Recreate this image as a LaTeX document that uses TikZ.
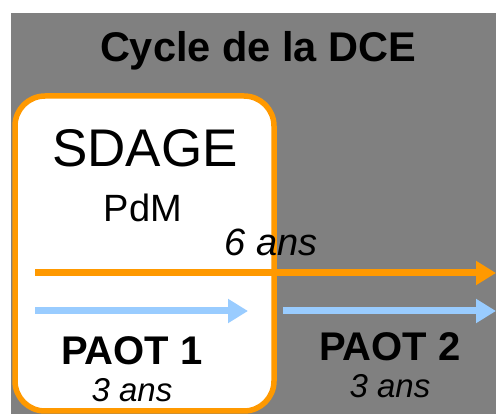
\documentclass[tikz,border=0pt]{standalone}
\usepackage{fontspec}
\setmainfont{Liberation Sans}
\usetikzlibrary{positioning}
\usetikzlibrary{arrows.meta}
\definecolor{dceorange}{HTML}{FF9900}
\definecolor{dceblue}{HTML}{99CCFF}
\definecolor{dcegray}{HTML}{808080}

\begin{document}
\begin{tikzpicture}[x=1pt, y=-1pt,
	txt/.style={inner sep=0pt, anchor=base},
	phase/.style={line width=7pt, -{Triangle[length=20pt, width=23pt]}}]
	\useasboundingbox (0,0) rectangle (496,414);
	\fill[white] (0,0) rectangle (496,414);
	\fill[dcegray] (11,13) rectangle (496,414);
	\draw[dceorange, line width=5.5pt, fill=white, rounded corners=30pt] (15,96) rectangle (274,411);

	\node [txt, font=\fontsize{41.5}{49}\selectfont\bfseries] (titre) at (258,62) {Cycle de la DCE};
	\node [txt, font=\fontsize{53}{63}\selectfont] (sdage) at (145,167) {SDAGE};
	\node [txt, font=\fontsize{38}{46}\selectfont] (pdm) at (143,222) {PdM};

	\coordinate (o_start) at (35,273);
	\coordinate (o_end) at (496,273);
	\draw[phase, dceorange] (o_start) -- (o_end);
	\node [txt, font=\fontsize{38}{46}\selectfont\itshape] (duree6) at (271,256) {6 ans};

	\coordinate (b1_start) at (35,311);
	\coordinate (b1_end) at (248,311);
	\draw[phase, dceblue] (b1_start) -- (b1_end);
	\coordinate (b2_start) at (283,311);
	\coordinate (b2_end) at (496,311);
	\draw[phase, dceblue] (b2_start) -- (b2_end);

	\node [txt, font=\fontsize{40}{48}\selectfont\bfseries] (paot1) at (132,365) {PAOT 1};
	\node [txt, font=\fontsize{33}{40}\selectfont\itshape, below=13pt of paot1] (duree1) {3 ans};
	\node [txt, font=\fontsize{40}{48}\selectfont\bfseries] (paot2) at (390,361) {PAOT 2};
	\node [txt, font=\fontsize{33}{40}\selectfont\itshape, below=13pt of paot2] (duree2) {3 ans};
\end{tikzpicture}
\end{document}
